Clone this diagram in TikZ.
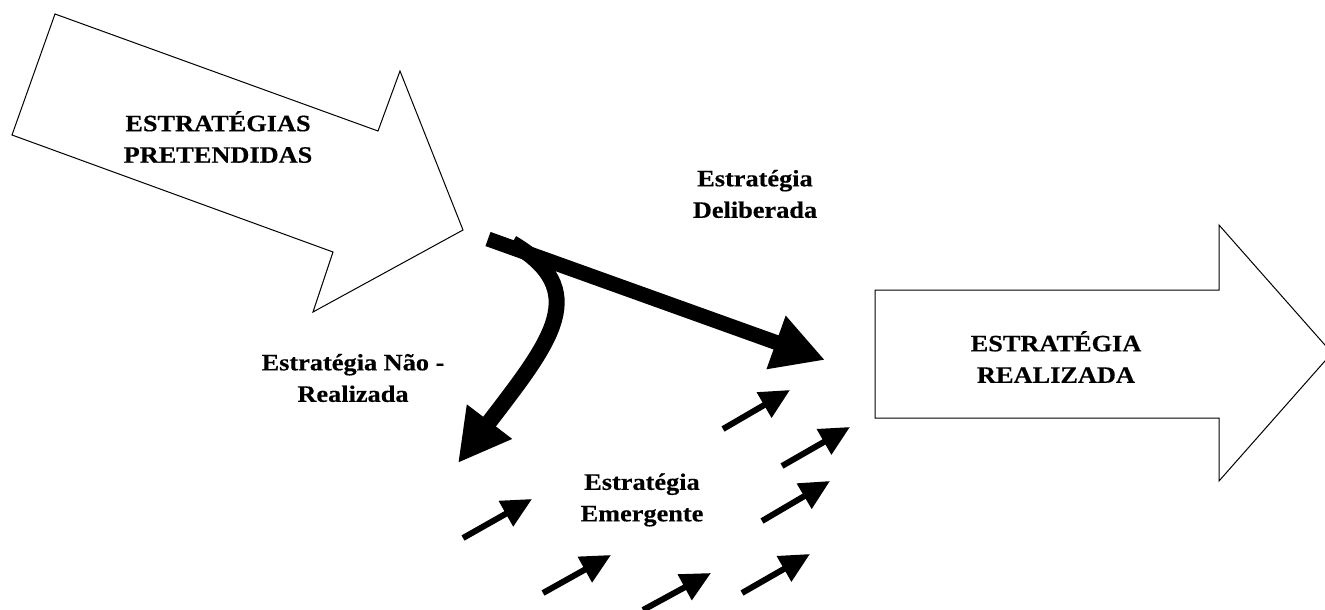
\documentclass[tikz,border=0pt]{standalone}
\usepackage{fontspec}
\setmainfont{Liberation Serif}[FakeStretch=1.12, BoldFeatures={FakeBold=0.4}]
\usetikzlibrary{arrows.meta}
\begin{document}
\begin{tikzpicture}[x=1pt,y=-1pt,
  bigshape/.style={draw=black, line width=1pt, fill=white, line join=miter},
  lbl/.style={font=\bfseries\fontsize{23.5}{31.5}\selectfont, align=center, inner sep=0pt},
  bigarrow/.style={line width=15pt, -{Triangle[length=52pt,width=53pt]}},
  curvearrow/.style={line width=16pt, -{Triangle[length=52pt,width=53pt]}},
  smallarrow/.style={line width=6pt, -{Triangle[length=30pt,width=28pt]}}]
\useasboundingbox (0,0) rectangle (1325,610);

% intended strategies arrow
\draw[bigshape] (55,14) -- (378,131) -- (400,71) -- (463,230) -- (313,312) -- (333,252) -- (12,135) -- cycle;
\node[lbl] (pret) at (218,137) {ESTRATÉGIAS\\PRETENDIDAS};

% realized strategy arrow
\draw[bigshape] (875,290) -- (1219,290) -- (1219,225) -- (1332,353) -- (1219,481) -- (1219,418) -- (875,418) -- cycle;
\node[lbl] (real) at (1056,357) {ESTRATÉGIA\\REALIZADA};

% labels
\node[lbl] (delib) at (755,194) {Estratégia\\Deliberada};
\node[lbl] (naoreal) at (353,378) {Estratégia Não -\\Realizada};
\node[lbl] (emerg) at (642,500) {Estratégia\\Emergente};

% coordinates
\coordinate (d0) at (488,239);
\coordinate (d1) at (825,360);
\coordinate (n0) at (512,243);
\coordinate (n1) at (592,290);
\coordinate (n2) at (552,340);
\coordinate (n3) at (490,421);
\coordinate (n4) at (458,463);

% curved (unrealized) arrow first, deliberate arrow on top
\draw[curvearrow] (n0) .. controls (n1) and (n2) .. (n3) -- (n4);
\draw[bigarrow] (d0) -- (d1);

% emergent small arrows
\coordinate (a1s) at (723,429); \coordinate (a1e) at (790,390);
\coordinate (a2s) at (782,466); \coordinate (a2e) at (850,427);
\coordinate (a3s) at (463,538); \coordinate (a3e) at (532,499);
\coordinate (a4s) at (543,593); \coordinate (a4e) at (611,555);
\coordinate (a5s) at (643,610); \coordinate (a5e) at (711,573);
\coordinate (a6s) at (742,593); \coordinate (a6e) at (810,554);
\coordinate (a7s) at (762,521); \coordinate (a7e) at (830,481);
\foreach \i in {1,...,7}{
  \draw[smallarrow] (a\i s) -- (a\i e);
}
\end{tikzpicture}
\end{document}
